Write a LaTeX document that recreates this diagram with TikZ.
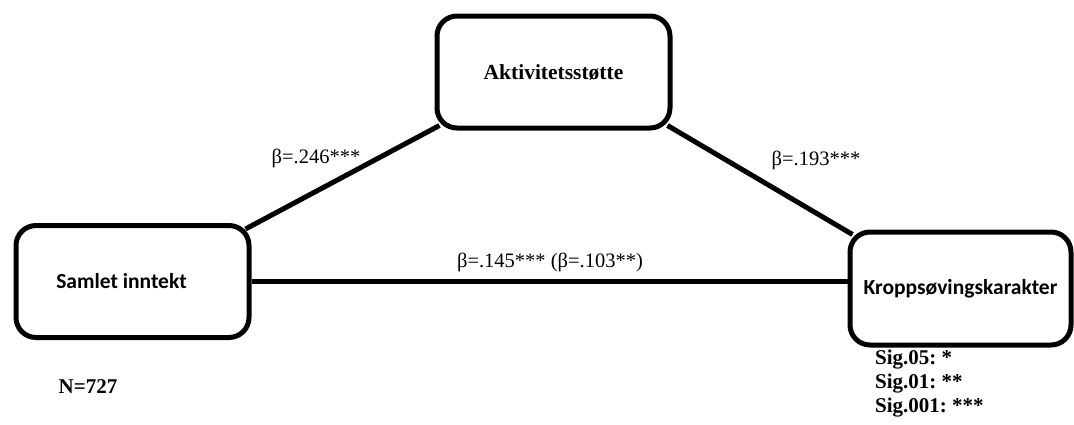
\documentclass[tikz,border=0pt]{standalone}
\usepackage{fontspec}
\setmainfont{Liberation Serif}
\newfontfamily\calfont{Carlito}
\usetikzlibrary{calc}
\frenchspacing
\tikzset{mbox/.style={draw=black, line width=5pt, rounded corners=20pt, fill=white, inner sep=0pt, minimum width=233pt, minimum height=112pt}}
\tikzset{mlink/.style={line width=5pt}}
\tikzset{blab/.style={inner sep=0pt, font=\fontsize{20.5}{24}\selectfont}}
\tikzset{bnote/.style={inner sep=0pt, font=\fontsize{21}{24}\selectfont\bfseries}}

\begin{document}
\begin{tikzpicture}[x=1pt, y=-1pt]
\useasboundingbox (0,0) rectangle (1074,424);
\node[mbox, font=\fontsize{21.5}{24}\selectfont\bfseries] (akt) at (553.5,72) {Aktivitetsstøtte};
\node[mbox, font=\fontsize{21.5}{24}\calfont\bfseries] (inntekt) at (132.5,281.5) {Samlet inntekt\hspace*{22pt}};
\node[mbox, minimum width=221pt, minimum height=113pt, font=\fontsize{21.5}{24}\calfont\bfseries] (karakter) at (960.5,288.5) {Kroppsøvingskarakter};

\draw[mlink] ($(inntekt.north east)+(-6,6)$) -- ($(akt.south west)+(5,-5)$);
\draw[mlink] ($(akt.south east)+(-5,-5)$) -- ($(karakter.north west)+(5,5)$);
\draw[mlink] (inntekt.east) -- (inntekt.east -| karakter.west);

\node[blab] (b1) at (316,158) {β=.246***};
\node[blab] (b2) at (816,160) {β=.193***};
\node[blab] (b3) at (550,262) {β=.145*** (β=.103**)};

\node[bnote] (n) at (88,387) {N=727};
\node[bnote, anchor=west, align=left] (sig) at (875,384) {Sig.05: *\\Sig.01: **\\Sig.001: ***};
\end{tikzpicture}
\end{document}
